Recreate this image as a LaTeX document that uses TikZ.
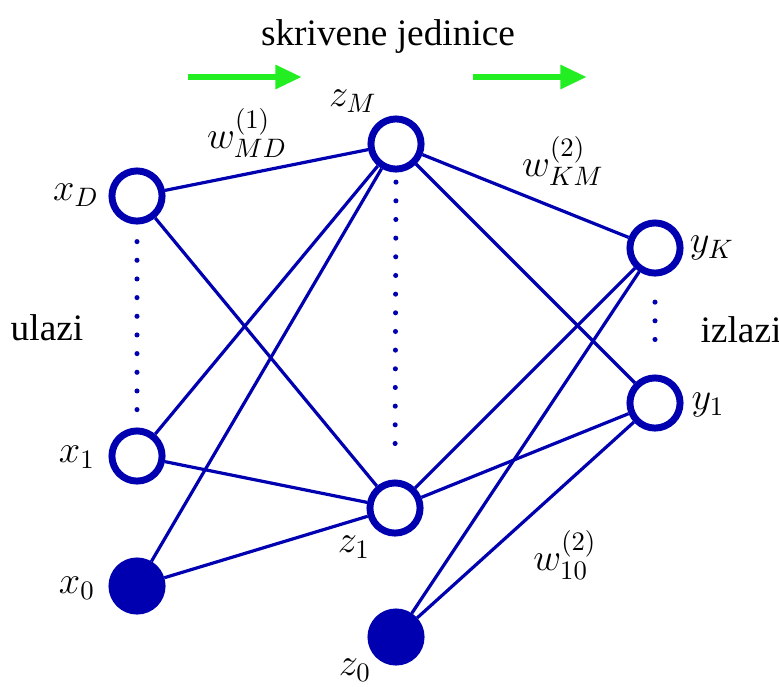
\documentclass[tikz,border=0pt]{standalone}
\usepackage[no-math]{fontspec}
\setmainfont{Liberation Serif}
\usetikzlibrary{arrows.meta}
\definecolor{netblue}{HTML}{0000B0}
\definecolor{flowgreen}{HTML}{22EE22}

\begin{document}
\begin{tikzpicture}[
      x=0.375pt, y=-0.375pt,
      every node/.style={font=\fontsize{14}{17}\selectfont},
      unit/.style={circle, draw=netblue, line width=2.6pt, fill=#1,
                   minimum size=18.8pt, inner sep=0pt},
      unit/.default=white,
      bias/.style={unit=netblue},
      link/.style={draw=netblue, line width=1.2pt},
      vdots/.style={draw=netblue, line width=1.9pt, line cap=round,
                    dash pattern=on 0pt off 7pt},
      flow/.style={draw=flowgreen, line width=2.6pt,
                   -{Triangle[length=10pt,width=8.5pt]}},
    ]
    \useasboundingbox (0,0) rectangle (779,686);

    % units
    \node[unit] (xD) at (137,196) {};
    \node[unit] (x1) at (137,456) {};
    \node[bias] (x0) at (137,586) {};
    \node[unit] (zM) at (396,144) {};
    \node[unit] (z1) at (395,508) {};
    \node[bias] (z0) at (396,637) {};
    \node[unit] (yK) at (655,248) {};
    \node[unit] (y1) at (655,403) {};

    % labels
    \node (lxD) at (76,195)  {$x_D$};
    \node (lx1) at (77,457)  {$x_1$};
    \node (lx0) at (77,588)  {$x_0$};
    \node (lzM) at (353,101) {$z_M$};
    \node (lz1) at (354,547) {$z_1$};
    \node (lz0) at (355,670) {$z_0$};
    \node (lyK) at (712,248) {$y_K$};
    \node (ly1) at (708,405) {$y_1$};
    \node (wMD) at (247,133) {$w^{(1)}_{MD}$};
    \node (wKM) at (563,161) {$w^{(2)}_{KM}$};
    \node (w10) at (565,555) {$w^{(2)}_{10}$};
    \node (inp)  at (47,328)  {ulazi};
    \node (outp) at (741,330) {izlazi};
    \node (hid)  at (388,37)  {skrivene jedinice};

    % first layer
    \foreach \a in {xD,x1,x0}
      \foreach \b in {zM,z1}
        \draw[link] (\a) -- (\b);
    % second layer
    \foreach \a in {zM,z1,z0}
      \foreach \b in {yK,y1}
        \draw[link] (\a) -- (\b);

    \draw[vdots, shorten <=6.4pt, shorten >=6.4pt] (xD.south) -- (x1.north);
    \draw[vdots, shorten <=3.6pt, shorten >=6.6pt] (zM.south) -- (z1.north);
    \draw[vdots, shorten <=9.6pt, shorten >=6.4pt] (yK.south) -- (y1.north);

    % direction of flow
    \coordinate (f1a) at (188,77);
    \coordinate (f1b) at (302,77);
    \coordinate (f2a) at (473,77);
    \coordinate (f2b) at (587,77);
    \draw[flow] (f1a) -- (f1b);
    \draw[flow] (f2a) -- (f2b);
  \end{tikzpicture}
\end{document}
